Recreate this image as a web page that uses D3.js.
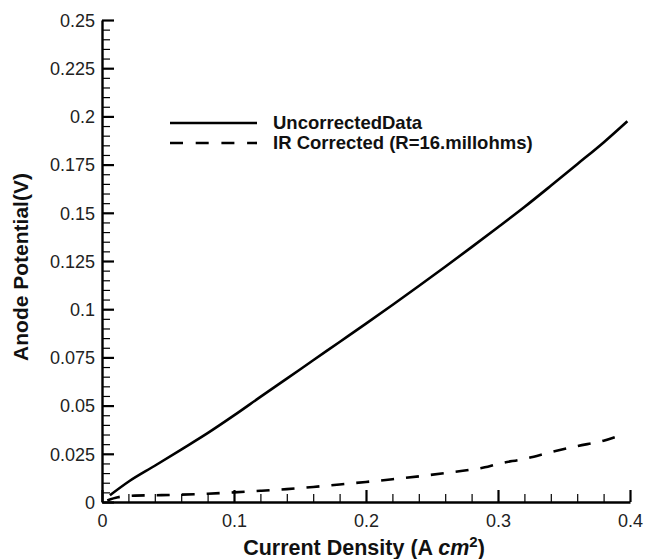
<!DOCTYPE html>
<html>
<head>
<meta charset="utf-8">
<script src="https://cdn.jsdelivr.net/npm/d3@7/dist/d3.min.js"></script>
<style>
  html, body { margin: 0; padding: 0; background: #fff; }
  svg { display: block; font-family: "Liberation Sans", Arial, sans-serif; }
</style>
</head>
<body>
<svg id="chart" width="645" height="559"></svg>
<script>
// Current density (A cm^-2) and anode potential (V)
const uncorrectedX = [0.006, 0.02, 0.04, 0.06, 0.08, 0.10, 0.12, 0.14, 0.16, 0.18, 0.20, 0.22, 0.24, 0.26, 0.28, 0.30, 0.32, 0.34, 0.36, 0.38, 0.398];
const uncorrectedY = [0.0035, 0.0105, 0.0188, 0.0272, 0.0357, 0.0449, 0.0545, 0.0640, 0.0735, 0.0830, 0.0925, 0.1022, 0.1120, 0.1220, 0.1322, 0.1425, 0.1530, 0.1640, 0.1752, 0.1865, 0.1975];

const correctedX = [0.004, 0.012, 0.025, 0.04, 0.06, 0.08, 0.10, 0.12, 0.14, 0.16, 0.18, 0.20, 0.22, 0.24, 0.26, 0.28, 0.29, 0.30, 0.32, 0.34, 0.36, 0.38, 0.39];
const correctedY = [0.0008, 0.0025, 0.0033, 0.0035, 0.0038, 0.0043, 0.0050, 0.0058, 0.0067, 0.0078, 0.0091, 0.0104, 0.0118, 0.0133, 0.0150, 0.0168, 0.0180, 0.0198, 0.0224, 0.0258, 0.0290, 0.0318, 0.0340];

const xTicks = [0, 0.1, 0.2, 0.3, 0.4];
const yTicks = [0, 0.025, 0.05, 0.075, 0.1, 0.125, 0.15, 0.175, 0.2, 0.225, 0.25];
const xMinorStep = 0.02;
const yMinorStep = 0.005;

const seriesNames = ["UncorrectedData", "IR Corrected (R=16.millohms)"];

const svg = d3.select("#chart");
const W = 645, H = 559;
const m = { left: 102, right: 15, top: 20, bottom: 57 };

const x = d3.scaleLinear().domain([0, 0.4]).range([m.left, W - m.right]);
const y = d3.scaleLinear().domain([0, 0.25]).range([H - m.bottom, m.top]);

const xMinor = d3.range(0, 21).map(i => i * xMinorStep).filter(v => !xTicks.some(t => Math.abs(t - v) < 1e-9));
const yMinor = d3.range(0, 51).map(i => i * yMinorStep).filter(v => !yTicks.some(t => Math.abs(t - v) < 1e-9));

const tickFont = "'Liberation Sans', Arial, sans-serif";

// minor ticks (pointing inward, unlabelled)
svg.append("g")
  .attr("transform", `translate(0,${y(0)})`)
  .call(d3.axisBottom(x).tickValues(xMinor).tickSize(-8).tickSizeOuter(0).tickFormat(""))
  .call(g => g.select(".domain").remove())
  .call(g => g.selectAll("line").attr("stroke", "#000").attr("stroke-width", 1.2));

svg.append("g")
  .attr("transform", `translate(${x(0)},0)`)
  .call(d3.axisLeft(y).tickValues(yMinor).tickSize(-8).tickSizeOuter(0).tickFormat(""))
  .call(g => g.select(".domain").remove())
  .call(g => g.selectAll("line").attr("stroke", "#000").attr("stroke-width", 1.2));

// major ticks with labels
const xAxis = svg.append("g")
  .attr("transform", `translate(0,${y(0)})`)
  .call(d3.axisBottom(x).tickValues(xTicks).tickSize(-12).tickSizeOuter(0).tickFormat(d => String(d)));
xAxis.select(".domain").attr("stroke", "#000").attr("stroke-width", 2.4);
xAxis.selectAll("line").attr("stroke", "#000").attr("stroke-width", 2.2);
xAxis.selectAll("text")
  .attr("y", 25).attr("dy", "0")
  .style("font-family", tickFont)
  .style("font-size", "18px").attr("fill", "#222");

const yAxis = svg.append("g")
  .attr("transform", `translate(${x(0)},0)`)
  .call(d3.axisLeft(y).tickValues(yTicks).tickSize(-12).tickSizeOuter(0).tickPadding(7).tickFormat(d => String(d)));
yAxis.select(".domain").attr("stroke", "#000").attr("stroke-width", 2.4);
yAxis.selectAll("line").attr("stroke", "#000").attr("stroke-width", 2.2);
yAxis.selectAll("text")
  .attr("dy", "0.35em")
  .style("font-family", tickFont)
  .style("font-size", "18px").attr("fill", "#222");

// data curves
const line = d3.line().x(d => x(d[0])).y(d => y(d[1])).curve(d3.curveMonotoneX);
const uncorrected = uncorrectedX.map((v, i) => [v, uncorrectedY[i]]);
const corrected = correctedX.map((v, i) => [v, correctedY[i]]);

svg.append("path").datum(uncorrected)
  .attr("d", line).attr("fill", "none").attr("stroke", "#000").attr("stroke-width", 2.6);
svg.append("path").datum(corrected)
  .attr("d", line).attr("fill", "none").attr("stroke", "#000").attr("stroke-width", 2.6)
  .attr("stroke-dasharray", "13,12");

// legend
const legend = svg.append("g");
seriesNames.forEach((name, i) => {
  const ly = 123 + i * 20;
  legend.append("line")
    .attr("x1", 170).attr("x2", 257).attr("y1", ly).attr("y2", ly)
    .attr("stroke", "#000").attr("stroke-width", 2.6)
    .attr("stroke-dasharray", i === 0 ? null : "13,12.7");
  legend.append("text")
    .attr("x", 273).attr("y", ly + 6)
    .style("font-size", "18.5px").style("font-weight", "bold").attr("fill", "#111")
    .text(name);
});

// axis titles
const xt = svg.append("text")
  .attr("x", 364).attr("y", 555)
  .attr("text-anchor", "middle")
  .style("font-size", "21.5px").style("font-weight", "bold").attr("fill", "#111");
xt.append("tspan").text("Current Density (A ");
xt.append("tspan").style("font-style", "italic").text("cm");
xt.append("tspan").attr("dy", -8).style("font-size", "15px").text("2");
xt.append("tspan").attr("dy", 8).text(")");

svg.append("text")
  .attr("transform", `translate(28,267) rotate(-90)`)
  .attr("text-anchor", "middle")
  .style("font-size", "21px").style("font-weight", "bold").attr("fill", "#111")
  .text("Anode Potential(V)");
</script>
</body>
</html>
